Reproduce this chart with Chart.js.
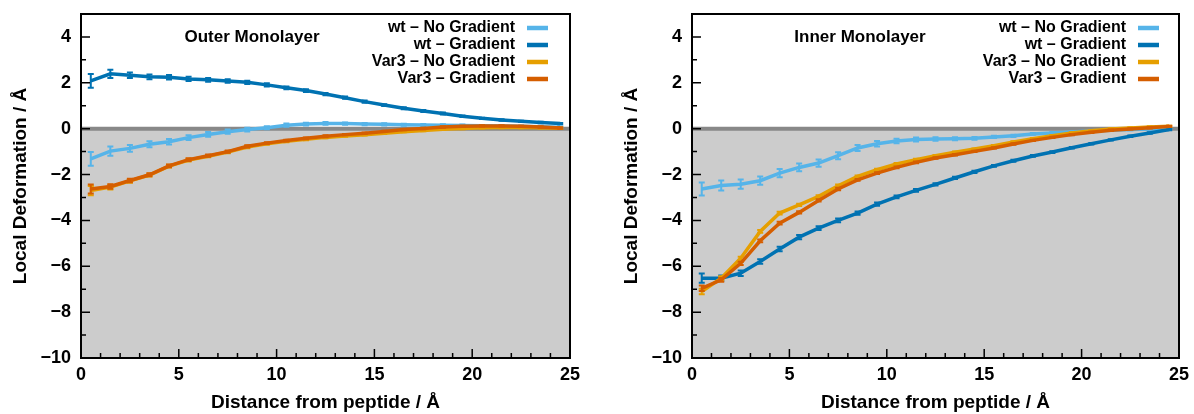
<!DOCTYPE html>
<html>
<head>
<meta charset="utf-8">
<script src="https://cdn.jsdelivr.net/npm/chart.js@4"></script>
<style>
  html, body { margin: 0; padding: 0; background: #fff; }
  .panel { position: absolute; top: 0; width: 583px; height: 414px; }
  #left { left: 0; }
  #right { left: 611px; }
</style>
</head>
<body>
<div class="panel" id="left"><canvas id="outerChart"></canvas></div>
<div class="panel" id="right"><canvas id="innerChart"></canvas></div>
<script>
/* ==========================================
   DATA
========================================== */

const distance = [0.5,1.5,2.5,3.5,4.5,5.5,6.5,7.5,8.5,9.5,10.5,11.5,12.5,13.5,14.5,15.5,16.5,17.5,18.5,19.5,20.5,21.5,22.5,23.5,24.5];

const seriesNames = ["wt \u2013 No Gradient", "wt \u2013 Gradient", "Var3 \u2013 No Gradient", "Var3 \u2013 Gradient"];
const seriesColors = ["#56B4E9", "#0072B2", "#E69F00", "#D55E00"];

// outer monolayer
const outerWtNoGrad = [-1.32,-0.98,-0.86,-0.68,-0.57,-0.39,-0.25,-0.13,-0.04,0.04,0.15,0.2,0.23,0.22,0.2,0.19,0.17,0.16,0.15,0.14,0.13,0.12,0.1,0.08,0.06];
const outerWtGrad = [2.08,2.39,2.33,2.26,2.24,2.17,2.13,2.08,2.02,1.91,1.78,1.66,1.51,1.35,1.18,1.03,0.89,0.77,0.66,0.54,0.45,0.38,0.32,0.27,0.22];
const outerVar3NoGrad = [-2.7,-2.55,-2.28,-2.02,-1.63,-1.37,-1.2,-1.02,-0.8,-0.66,-0.55,-0.46,-0.38,-0.32,-0.27,-0.2,-0.13,-0.08,-0.03,0.01,0.04,0.05,0.05,0.04,0.02];
const outerVar3Grad = [-2.63,-2.52,-2.26,-2.01,-1.62,-1.35,-1.18,-1.0,-0.77,-0.63,-0.52,-0.42,-0.33,-0.26,-0.2,-0.12,-0.04,0.01,0.07,0.1,0.12,0.12,0.1,0.07,0.03];

const outerWtNoGradErr = [0.3,0.2,0.15,0.13,0.12,0.1,0.1,0.09,0.08,0.07,0.07,0.06,0.06,0.05,0.05,0.05,0.04,0.04,0.04,0.04,0.03,0.03,0.03,0.03,0.03];
const outerWtGradErr = [0.3,0.18,0.12,0.1,0.1,0.09,0.08,0.08,0.07,0.07,0.06,0.06,0.05,0.05,0.05,0.04,0.04,0.04,0.04,0.03,0.03,0.03,0.03,0.03,0.03];
const outerVar3NoGradErr = [0.2,0.1,0.08,0.07,0.06,0.06,0.05,0.05,0.05,0.04,0.04,0.04,0.04,0.03,0.03,0.03,0.03,0.03,0.03,0.03,0.03,0.03,0.03,0.03,0.03];
const outerVar3GradErr = [0.2,0.1,0.08,0.07,0.06,0.06,0.05,0.05,0.05,0.04,0.04,0.04,0.04,0.03,0.03,0.03,0.03,0.03,0.03,0.03,0.03,0.03,0.03,0.03,0.03];

// inner monolayer
const innerWtNoGrad = [-2.63,-2.48,-2.42,-2.27,-1.94,-1.69,-1.5,-1.18,-0.84,-0.66,-0.54,-0.47,-0.45,-0.44,-0.42,-0.36,-0.31,-0.23,-0.19,-0.15,-0.1,-0.07,-0.04,-0.01,0.0];
const innerWtGrad = [-6.52,-6.52,-6.3,-5.79,-5.25,-4.73,-4.34,-4.0,-3.68,-3.29,-2.97,-2.69,-2.43,-2.15,-1.88,-1.62,-1.4,-1.19,-1.02,-0.83,-0.66,-0.49,-0.33,-0.19,-0.04];
const innerVar3NoGrad = [-7.1,-6.52,-5.65,-4.48,-3.68,-3.32,-2.95,-2.49,-2.08,-1.79,-1.54,-1.35,-1.18,-1.03,-0.89,-0.74,-0.58,-0.44,-0.31,-0.19,-0.09,-0.01,0.03,0.07,0.1];
const innerVar3Grad = [-6.96,-6.59,-5.87,-4.89,-4.12,-3.65,-3.13,-2.63,-2.23,-1.94,-1.69,-1.47,-1.28,-1.14,-0.99,-0.84,-0.67,-0.51,-0.38,-0.26,-0.16,-0.07,-0.01,0.04,0.1];

const innerWtNoGradErr = [0.28,0.22,0.2,0.18,0.18,0.17,0.16,0.15,0.13,0.12,0.1,0.09,0.08,0.07,0.06,0.05,0.05,0.04,0.04,0.04,0.03,0.03,0.03,0.03,0.03];
const innerWtGradErr = [0.2,0.12,0.12,0.1,0.1,0.09,0.08,0.08,0.07,0.07,0.06,0.06,0.05,0.05,0.05,0.04,0.04,0.04,0.04,0.03,0.03,0.03,0.03,0.03,0.03];
const innerVar3NoGradErr = [0.12,0.08,0.07,0.06,0.06,0.05,0.05,0.05,0.04,0.04,0.04,0.04,0.03,0.03,0.03,0.03,0.03,0.03,0.03,0.03,0.03,0.03,0.03,0.03,0.03];
const innerVar3GradErr = [0.12,0.08,0.07,0.06,0.06,0.05,0.05,0.05,0.04,0.04,0.04,0.04,0.03,0.03,0.03,0.03,0.03,0.03,0.03,0.03,0.03,0.03,0.03,0.03,0.03];

// axes
const xMajor = [0,5,10,15,20,25];
const xMinor = [1,2,3,4,6,7,8,9,11,12,13,14,16,17,18,19,21,22,23,24];
const yMajor = [-10,-8,-6,-4,-2,0,2,4];
const yMinor = [-9,-7,-5,-3,-1,1,3];

const FONT = "'Liberation Sans', Arial, Helvetica, sans-serif";


/* ==========================================
   DECORATION PLUGIN (shading, error bars, frame, key)
========================================== */

const decor = {

id: "decor",

beforeDatasetsDraw(chart){

const {ctx, chartArea:a, scales:{y}} = chart;
const y0 = y.getPixelForValue(0);

ctx.save();
ctx.fillStyle = "#cccccc";
ctx.fillRect(a.left, y0, a.right - a.left, a.bottom - y0);
ctx.strokeStyle = "#888888";
ctx.lineWidth = 4;
ctx.beginPath();
ctx.moveTo(a.left, y0);
ctx.lineTo(a.right, y0);
ctx.stroke();
ctx.restore();

},

afterDatasetDraw(chart, args){

const ds = chart.data.datasets[args.index];
if(!ds.err) return;
const {ctx, scales:{x, y}} = chart;

ctx.save();
ctx.strokeStyle = ds.borderColor;
ctx.lineWidth = 2;
ds.data.forEach((p, i) => {
  const px = x.getPixelForValue(p.x);
  const top = y.getPixelForValue(p.y + ds.err[i]);
  const bot = y.getPixelForValue(p.y - ds.err[i]);
  ctx.beginPath();
  ctx.moveTo(px, top); ctx.lineTo(px, bot);
  ctx.moveTo(px - 3, top); ctx.lineTo(px + 3, top);
  ctx.moveTo(px - 3, bot); ctx.lineTo(px + 3, bot);
  ctx.stroke();
});
ctx.restore();

},

afterDraw(chart, args, opts){

const {ctx, chartArea:a, scales:{x, y}} = chart;

ctx.save();

// inward ticks
ctx.strokeStyle = "#000";
ctx.lineWidth = 1.5;
ctx.beginPath();
yMajor.forEach(v => { const py = y.getPixelForValue(v); ctx.moveTo(a.left, py); ctx.lineTo(a.left + 9, py); });
yMinor.forEach(v => { const py = y.getPixelForValue(v); ctx.moveTo(a.left, py); ctx.lineTo(a.left + 5, py); });
xMajor.forEach(v => { const px = x.getPixelForValue(v); ctx.moveTo(px, a.bottom); ctx.lineTo(px, a.bottom - 9); });
xMinor.forEach(v => { const px = x.getPixelForValue(v); ctx.moveTo(px, a.bottom); ctx.lineTo(px, a.bottom - 5); });
ctx.stroke();

// frame
ctx.lineWidth = 2;
ctx.strokeRect(a.left, a.top, a.right - a.left, a.bottom - a.top);

// panel title
ctx.fillStyle = "#000";
ctx.font = "bold 17px " + FONT;
ctx.textAlign = "center";
ctx.textBaseline = "middle";
ctx.fillText(opts.title, opts.titleX, 37);

// key
ctx.font = "bold 16px " + FONT;
ctx.textAlign = "right";
chart.data.datasets.forEach((ds, i) => {
  const ky = 28 + i * 17;
  ctx.fillStyle = "#000";
  ctx.fillText(ds.label, 515, ky);
  ctx.strokeStyle = ds.borderColor;
  ctx.lineWidth = 4.5;
  ctx.beginPath();
  ctx.moveTo(527, ky);
  ctx.lineTo(548, ky);
  ctx.stroke();
});

ctx.restore();

}

};


/* ==========================================
   CHART BUILDER
========================================== */

function makeDataset(i, values, err){

return {
  label: seriesNames[i],
  data: distance.map((d, k) => ({x: d, y: values[k]})),
  err: err,
  borderColor: seriesColors[i],
  backgroundColor: seriesColors[i],
  borderWidth: 3.5,
  pointRadius: 0,
  showLine: true,
  order: 4 - i
};

}

function makeChart(id, title, titleX, rightPad, sets){

new Chart(document.getElementById(id), {

type: "scatter",

data: {
  datasets: sets
},

options: {

responsive: true,
maintainAspectRatio: false,
animation: false,

layout: {
  padding: {top: 14, right: rightPad, left: 0, bottom: 0}
},

plugins: {
  legend: {display: false},
  tooltip: {enabled: false},
  decor: {title: title, titleX: titleX}
},

scales: {

x: {
  type: "linear",
  min: 0,
  max: 25,
  afterBuildTicks(s){ s.ticks = xMajor.map(v => ({value: v})); },
  afterFit(s){ s.height = 56; s.paddingLeft = 0; s.paddingRight = 0; },
  grid: {display: false, drawTicks: false},
  border: {display: false},
  ticks: {color: "#000", padding: 6, maxRotation: 0, font: {family: FONT, size: 18, weight: "bold"}},
  title: {display: true, text: "Distance from peptide / \u00C5", color: "#000", padding: {top: 0, bottom: 0}, font: {family: FONT, size: 19, weight: "bold"}}
},

y: {
  type: "linear",
  min: -10,
  max: 5,
  afterBuildTicks(s){ s.ticks = yMajor.map(v => ({value: v})); },
  afterFit(s){ s.width = 81; s.paddingTop = 0; s.paddingBottom = 0; },
  grid: {display: false, drawTicks: false},
  border: {display: false},
  ticks: {
    color: "#000",
    padding: 10,
    font: {family: FONT, size: 18, weight: "bold"},
    callback: v => String(v).replace("-", "\u2212")
  },
  title: {display: true, text: "Local Deformation / \u00C5", color: "#000", padding: {top: 9, bottom: 0}, font: {family: FONT, size: 19, weight: "bold"}}
}

}

},

plugins: [decor]

});

}

makeChart("outerChart", "Outer Monolayer", 252, 13, [
  makeDataset(0, outerWtNoGrad, outerWtNoGradErr),
  makeDataset(1, outerWtGrad, outerWtGradErr),
  makeDataset(2, outerVar3NoGrad, outerVar3NoGradErr),
  makeDataset(3, outerVar3Grad, outerVar3GradErr)
]);

makeChart("innerChart", "Inner Monolayer", 249, 15, [
  makeDataset(0, innerWtNoGrad, innerWtNoGradErr),
  makeDataset(1, innerWtGrad, innerWtGradErr),
  makeDataset(2, innerVar3NoGrad, innerVar3NoGradErr),
  makeDataset(3, innerVar3Grad, innerVar3GradErr)
]);
</script>
</body>
</html>
